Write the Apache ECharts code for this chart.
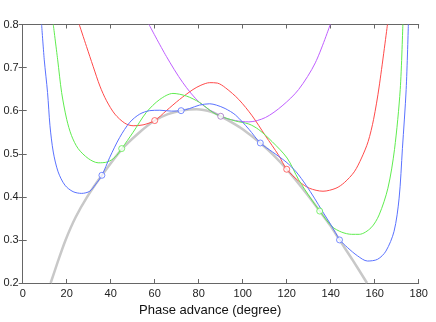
<!DOCTYPE html>
<html>
<head>
<meta charset="utf-8">
<script src="https://cdn.jsdelivr.net/npm/echarts@6/dist/echarts.min.js"></script>
<style>
  html, body { margin: 0; padding: 0; background: #fff; }
  #main { width: 436px; height: 322px; }
</style>
</head>
<body>
<div id="main"></div>
<script>
// values
var xTicks = [0, 20, 40, 60, 80, 100, 120, 140, 160, 180]
var yTicks = [0.2, 0.3, 0.4, 0.5, 0.6, 0.7, 0.8]

var grayX = [12.7, 16, 19.5, 24, 29.3, 36, 45, 52.5, 60, 66, 72, 79, 86, 90, 95, 100, 108, 114, 120, 128, 135, 140, 144, 150, 156.5]
var grayY = [0.2, 0.25, 0.3, 0.352, 0.4, 0.45, 0.51, 0.547, 0.577, 0.592, 0.6, 0.603, 0.597, 0.587, 0.573, 0.557, 0.525, 0.497, 0.464, 0.414, 0.367, 0.332, 0.30, 0.253, 0.2]

var blueX = [8.6, 9.8, 11.3, 12.4, 13.9, 16.1, 19.2, 22.9, 26.8, 30.5, 33, 36, 39.6, 44.1, 48.7, 53.2, 57.7, 62.3, 67.6, 72, 75.9, 80.4, 85, 88, 92, 96.7, 102.8, 108, 113.6, 119.7, 124.3, 128.8, 132.6, 136.3, 140.1, 144.2, 147.7, 152.2, 156.7, 161.3, 165.1, 168.8, 171.1, 172.6, 174.3, 175.3]
var blueY = [0.8, 0.718, 0.642, 0.565, 0.504, 0.458, 0.427, 0.412, 0.408, 0.413, 0.428, 0.45, 0.492, 0.538, 0.573, 0.592, 0.600, 0.601, 0.599, 0.600, 0.605, 0.613, 0.616, 0.613, 0.605, 0.590, 0.557, 0.525, 0.504, 0.481, 0.458, 0.427, 0.397, 0.366, 0.335, 0.30, 0.282, 0.263, 0.251, 0.255, 0.274, 0.32, 0.397, 0.512, 0.649, 0.8]

var greenX = [13.9, 15.9, 17.7, 20, 22.2, 25.2, 29.8, 34.3, 38.5, 42, 45, 50.2, 56.2, 62.3, 68.3, 74.4, 80.4, 86.4, 90, 96.7, 102.8, 107.3, 113.4, 120.2, 125.4, 131.1, 135, 140.6, 145, 149.5, 153, 158.3, 162, 166, 169, 171.6, 172.8]
var greenY = [0.8, 0.718, 0.642, 0.58, 0.542, 0.512, 0.489, 0.479, 0.481, 0.492, 0.512, 0.55, 0.596, 0.626, 0.640, 0.634, 0.619, 0.596, 0.587, 0.576, 0.569, 0.556, 0.528, 0.490, 0.44, 0.395, 0.367, 0.331, 0.318, 0.313, 0.313, 0.328, 0.358, 0.42, 0.51, 0.649, 0.8]

var redX = [25.7, 29, 32, 35.1, 38.1, 41.9, 46.4, 50.2, 54.7, 60, 65.3, 71.3, 77.4, 81, 85, 88.5, 92.2, 98.2, 104.3, 110.3, 116.4, 120, 125.8, 130.3, 136.5, 142.4, 146.2, 150.7, 154, 157, 159.5, 162, 165.8]
var redY = [0.8, 0.749, 0.703, 0.657, 0.623, 0.592, 0.571, 0.565, 0.567, 0.577, 0.600, 0.626, 0.649, 0.659, 0.665, 0.664, 0.653, 0.626, 0.588, 0.542, 0.496, 0.464, 0.435, 0.42, 0.413, 0.42, 0.433, 0.458, 0.49, 0.528, 0.58, 0.655, 0.8]

var purpleX = [57.4, 65.3, 72.8, 80.4, 90, 96.7, 102.8, 110.3, 117.9, 125.4, 133, 139.8]
var purpleY = [0.8, 0.726, 0.665, 0.619, 0.587, 0.577, 0.574, 0.584, 0.611, 0.649, 0.711, 0.8]

// fit nodes (open circles)
var blueNodes = [[36, 0.45], [72, 0.6], [108, 0.525], [144, 0.30]]
var greenNodes = [[45, 0.512], [135, 0.367]]
var redNodes = [[60, 0.577], [120, 0.464]]
var purpleNodes = [[90, 0.587]]

function pairs(xs, ys){
  var out = []
  for(var i = 0; i < xs.length; i++){
    out.push([xs[i], ys[i]])
  }
  return out
}

function curve(name, xs, ys, color, width){
  return {
    name: name,
    type: 'line',
    data: pairs(xs, ys),
    smooth: 0.3,
    showSymbol: false,
    clip: true,
    silent: true,
    lineStyle: { color: color, width: width },
    z: 2
  }
}

function nodes(name, pts, color){
  return {
    name: name,
    type: 'scatter',
    data: pts,
    symbol: 'circle',
    symbolSize: 6,
    silent: true,
    itemStyle: { color: '#fff', borderColor: color, borderWidth: 1 },
    z: 5
  }
}

var axisColor = '#666'
var fontName = 'Liberation Sans, Arial, sans-serif'
var labelFont = { color: '#222', fontSize: 11, fontFamily: fontName }

var chart = echarts.init(document.getElementById('main'))
var option = {
  animation: false,
  backgroundColor: '#fff',
  grid: { left: 22.7, right: 17.3, top: 24.5, bottom: 36.5 },
  xAxis: [
    {
      type: 'value', min: xTicks[0], max: xTicks[xTicks.length - 1], interval: 20,
      name: 'Phase advance (degree)', nameLocation: 'middle', nameGap: 21,
      nameTextStyle: { color: '#111', fontSize: 13, fontFamily: fontName, padding: [0, 21, 0, 0] },
      axisLine: { show: true, lineStyle: { color: axisColor, width: 1 } },
      axisTick: { show: true, inside: true, length: 4, lineStyle: { color: axisColor } },
      axisLabel: Object.assign({ margin: 5 }, labelFont),
      splitLine: { show: false }
    },
    {
      type: 'value', position: 'top', min: xTicks[0], max: xTicks[xTicks.length - 1], interval: 20,
      axisLine: { show: true, lineStyle: { color: axisColor, width: 1 } },
      axisTick: { show: true, inside: true, length: 4, lineStyle: { color: axisColor } },
      axisLabel: { show: false },
      splitLine: { show: false }
    }
  ],
  yAxis: [
    {
      type: 'value', min: yTicks[0], max: yTicks[yTicks.length - 1], interval: 0.1,
      axisLine: { show: true, lineStyle: { color: axisColor, width: 1 } },
      axisTick: { show: true, inside: true, length: 4, lineStyle: { color: axisColor } },
      axisLabel: Object.assign({ margin: 4, formatter: function(v){ return v.toFixed(1) } }, labelFont),
      splitLine: { show: false }
    },
    {
      type: 'value', position: 'right', min: yTicks[0], max: yTicks[yTicks.length - 1], interval: 0.1,
      axisLine: { show: true, lineStyle: { color: axisColor, width: 1 } },
      axisTick: { show: true, inside: true, length: 4, lineStyle: { color: axisColor } },
      axisLabel: { show: false },
      splitLine: { show: false }
    }
  ],
  series: [
    curve('exact', grayX, grayY, '#c8c8c8', 2.5),
    curve('purple', purpleX, purpleY, '#bf5fff', 1),
    curve('red', redX, redY, '#ff4a4a', 1),
    curve('green', greenX, greenY, '#5fec4f', 1),
    curve('blue', blueX, blueY, '#5a72ff', 1),
    nodes('purpleNodes', purpleNodes, '#a070c0'),
    nodes('redNodes', redNodes, '#ff4a4a'),
    nodes('greenNodes', greenNodes, '#5fec4f'),
    nodes('blueNodes', blueNodes, '#5a72ff')
  ]
}
chart.setOption(option)
</script>
</body>
</html>
